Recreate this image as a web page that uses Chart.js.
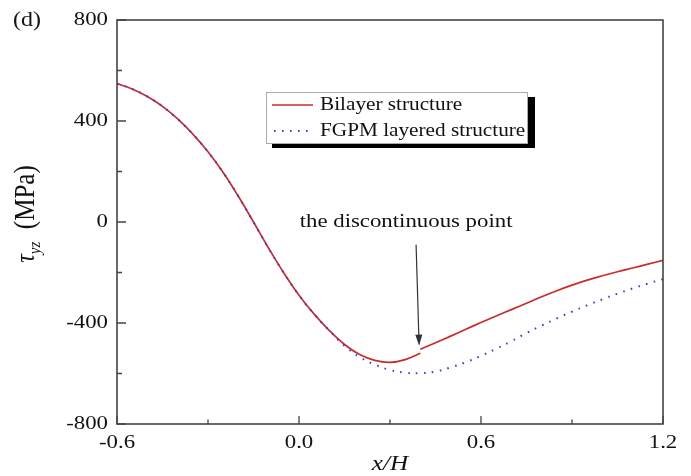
<!DOCTYPE html>
<html>
<head>
<meta charset="utf-8">
<title>tau_yz vs x/H</title>
<script src="https://cdn.jsdelivr.net/npm/chart.js@4.4.0/dist/chart.umd.min.js"></script>
<style>
  body { margin: 0; background: #fff; }
  canvas { display: block; }
</style>
</head>
<body>
<canvas id="stressChart" width="691" height="476"></canvas>
<script>
// Bilayer structure, left of the interface (x/H up to 0.4)
const xLeft = [-0.6, -0.55, -0.5, -0.45, -0.4, -0.35, -0.3, -0.25, -0.2, -0.15, -0.1, -0.05, 0, 0.05, 0.1, 0.15, 0.2, 0.25, 0.3, 0.35, 0.4];
const bilayerLeft = [548, 527, 497, 458, 408, 348, 278, 196, 102, 0, -104, -202, -290, -365, -430, -485, -525, -548, -556, -545, -520];
// Bilayer structure, right of the interface
const xRight = [0.4, 0.45, 0.5, 0.55, 0.6, 0.65, 0.7, 0.75, 0.8, 0.85, 0.9, 0.95, 1.0, 1.05, 1.1, 1.15, 1.2];
const bilayerRight = [-504, -478, -452, -425, -398, -372, -347, -322, -296, -272, -250, -230, -213, -197, -182, -167, -152];
// FGPM layered structure (continuous)
const xFgpm = [-0.6, -0.55, -0.5, -0.45, -0.4, -0.35, -0.3, -0.25, -0.2, -0.15, -0.1, -0.05, 0, 0.05, 0.1, 0.15, 0.2, 0.25, 0.3, 0.35, 0.4, 0.45, 0.5, 0.55, 0.6, 0.65, 0.7, 0.75, 0.8, 0.85, 0.9, 0.95, 1.0, 1.05, 1.1, 1.15, 1.2];
const fgpmValues = [548, 527, 497, 458, 408, 348, 278, 196, 102, 0, -104, -202, -290, -365, -430, -490, -535, -565, -586, -597, -599, -592, -576, -555, -530, -502, -472, -440, -410, -382, -355, -330, -306, -284, -263, -244, -226];

// Axis ticks and labels
const xMajorTicks = [-0.6, 0.0, 0.6, 1.2];
const xTickLabels = ['-0.6', '0.0', '0.6', '1.2'];
const xMinorTicks = [-0.3, 0.3, 0.9];
const yMajorTicks = [-800, -400, 0, 400, 800];
const yTickLabels = ['-800', '-400', '0', '400', '800'];
const yMinorTicks = [-600, -200, 200, 600];

const seriesNames = ['Bilayer structure', 'FGPM layered structure'];
const noteText = 'the discontinuous point';
const notePos = { x: 0.353, y: 0 };        // centre of the annotation text
const arrowFrom = { x: 0.386, y: -90 };
const arrowTo = { x: 0.396, y: -490 };

const RED = 'rgb(200, 44, 44)';
const BLUE = 'rgb(64, 64, 200)';
const SERIF = '"Liberation Serif", "Times New Roman", serif';

// pair up x and y arrays into points
function toPoints(xs, ys) {
  return xs.map((x, i) => ({ x: x, y: ys[i] }));
}

// the bilayer curve is broken at the interface
const bilayerData = toPoints(xLeft, bilayerLeft)
  .concat([{ x: 0.4, y: null }])
  .concat(toPoints(xRight, bilayerRight));

// text in the original is a little wider than Times, so stretch it
function wideText(ctx, txt, x, y, align, sx) {
  ctx.save();
  ctx.translate(x, y);
  ctx.scale(sx, 1);
  ctx.textAlign = align;
  ctx.fillText(txt, 0, 0);
  ctx.restore();
}

const whiteBackground = {
  id: 'whiteBackground',
  beforeDraw(chart) {
    const ctx = chart.ctx;
    ctx.save();
    ctx.fillStyle = '#fff';
    ctx.fillRect(0, 0, chart.width, chart.height);
    ctx.restore();
  }
};

// frame, inward ticks, labels, legend and the arrow note
const decorations = {
  id: 'decorations',
  afterDraw(chart) {
    const ctx = chart.ctx;
    const xs = chart.scales.x, ys = chart.scales.y;
    const a = chart.chartArea;

    ctx.save();
    ctx.strokeStyle = '#444';
    ctx.lineWidth = 1.6;
    ctx.strokeRect(a.left, a.top, a.right - a.left, a.bottom - a.top);

    ctx.lineWidth = 1.3;
    ctx.beginPath();
    xMajorTicks.forEach(v => { const p = xs.getPixelForValue(v); ctx.moveTo(p, a.bottom); ctx.lineTo(p, a.bottom - 8); });
    xMinorTicks.forEach(v => { const p = xs.getPixelForValue(v); ctx.moveTo(p, a.bottom); ctx.lineTo(p, a.bottom - 4.5); });
    yMajorTicks.forEach(v => { const p = ys.getPixelForValue(v); ctx.moveTo(a.left, p); ctx.lineTo(a.left + 9, p); });
    yMinorTicks.forEach(v => { const p = ys.getPixelForValue(v); ctx.moveTo(a.left, p); ctx.lineTo(a.left + 5, p); });
    ctx.stroke();

    // tick labels
    ctx.fillStyle = '#111';
    ctx.font = '19px ' + SERIF;
    ctx.textBaseline = 'middle';
    yMajorTicks.forEach((v, i) => wideText(ctx, yTickLabels[i], a.left - 9, ys.getPixelForValue(v), 'right', 1.2));
    xMajorTicks.forEach((v, i) => wideText(ctx, xTickLabels[i], xs.getPixelForValue(v), a.bottom + 19, 'center', 1.2));

    // axis titles
    ctx.font = 'italic 21px ' + SERIF;
    wideText(ctx, 'x/H', (a.left + a.right) / 2, a.bottom + 40, 'center', 1.2);

    ctx.save();
    ctx.translate(34, 214);
    ctx.rotate(-Math.PI / 2);
    ctx.scale(1, 1.15);
    ctx.textBaseline = 'alphabetic';
    ctx.textAlign = 'left';
    const fTau = 'italic 24px ' + SERIF, fSub = 'italic 15px ' + SERIF, fUnit = '25px ' + SERIF;
    ctx.font = fTau; const wTau = ctx.measureText('τ').width;
    ctx.font = fSub; const wSub = ctx.measureText('yz').width;
    ctx.font = fUnit; const wUnit = ctx.measureText('  (MPa)').width;
    let cx = -(wTau + wSub + wUnit) / 2;
    ctx.font = fTau; ctx.fillText('τ', cx, 0); cx += wTau;
    ctx.font = fSub; ctx.fillText('yz', cx, 5); cx += wSub;
    ctx.font = fUnit; ctx.fillText('  (MPa)', cx, 0);
    ctx.restore();

    // panel letter
    ctx.font = '20px ' + SERIF;
    wideText(ctx, '(d)', 13, 21, 'left', 1.2);

    // annotation and arrow
    ctx.font = '19px ' + SERIF;
    wideText(ctx, noteText, xs.getPixelForValue(notePos.x), ys.getPixelForValue(notePos.y), 'center', 1.2);
    const x0 = xs.getPixelForValue(arrowFrom.x), y0 = ys.getPixelForValue(arrowFrom.y);
    const x1 = xs.getPixelForValue(arrowTo.x), y1 = ys.getPixelForValue(arrowTo.y);
    const ang = Math.atan2(y1 - y0, x1 - x0);
    ctx.strokeStyle = '#333';
    ctx.fillStyle = '#333';
    ctx.lineWidth = 1.2;
    ctx.beginPath();
    ctx.moveTo(x0, y0);
    ctx.lineTo(x1 - 10 * Math.cos(ang), y1 - 10 * Math.sin(ang));
    ctx.stroke();
    ctx.beginPath();
    ctx.moveTo(x1, y1);
    ctx.lineTo(x1 - 11 * Math.cos(ang) + 3.5 * Math.sin(ang), y1 - 11 * Math.sin(ang) - 3.5 * Math.cos(ang));
    ctx.lineTo(x1 - 11 * Math.cos(ang) - 3.5 * Math.sin(ang), y1 - 11 * Math.sin(ang) + 3.5 * Math.cos(ang));
    ctx.closePath();
    ctx.fill();

    // legend box with a black drop shadow
    const lx = 266, ly = 92, lw = 261, lh = 51;
    ctx.fillStyle = '#000';
    ctx.fillRect(lx + 6, ly + 5, lw + 2, lh);
    ctx.fillStyle = '#fff';
    ctx.fillRect(lx, ly, lw, lh);
    ctx.strokeStyle = '#aaa';
    ctx.lineWidth = 1;
    ctx.strokeRect(lx + 0.5, ly + 0.5, lw, lh);

    ctx.lineWidth = 1.6;
    ctx.strokeStyle = RED;
    ctx.beginPath(); ctx.moveTo(272, 105); ctx.lineTo(313, 105); ctx.stroke();
    ctx.strokeStyle = BLUE;
    ctx.lineWidth = 2;
    ctx.setLineDash([1.6, 6.4]);
    ctx.beginPath(); ctx.moveTo(274, 131); ctx.lineTo(314, 131); ctx.stroke();
    ctx.setLineDash([]);

    ctx.fillStyle = '#111';
    ctx.font = '18px ' + SERIF;
    ctx.textBaseline = 'middle';
    wideText(ctx, seriesNames[0], 320, 105, 'left', 1.18);
    wideText(ctx, seriesNames[1], 320, 131, 'left', 1.18);
    ctx.restore();
  }
};

const chart = new Chart(document.getElementById('stressChart'), {
  type: 'line',
  data: {
    datasets: [{
      label: seriesNames[0],
      data: bilayerData,
      borderColor: RED,
      borderWidth: 1.7,
      pointRadius: 0,
      spanGaps: false,
      tension: 0.4,
      order: 2
    }, {
      label: seriesNames[1],
      data: toPoints(xFgpm, fgpmValues),
      borderColor: BLUE,
      borderWidth: 2,
      borderDash: [1.6, 6.4],
      pointRadius: 0,
      tension: 0.4,
      order: 1
    }]
  },
  options: {
    responsive: false,
    animation: false,
    layout: { padding: { left: 0, right: 28, top: 20, bottom: 0 } },
    plugins: { legend: { display: false }, tooltip: { enabled: false } },
    scales: {
      x: {
        type: 'linear',
        min: -0.6,
        max: 1.2,
        grid: { display: false },
        border: { display: false },
        ticks: { display: false },
        afterFit: (scale) => { scale.height = 52; }
      },
      y: {
        type: 'linear',
        min: -800,
        max: 800,
        grid: { display: false },
        border: { display: false },
        ticks: { display: false },
        afterFit: (scale) => { scale.width = 117; }
      }
    }
  },
  plugins: [whiteBackground, decorations]
});
</script>
</body>
</html>
